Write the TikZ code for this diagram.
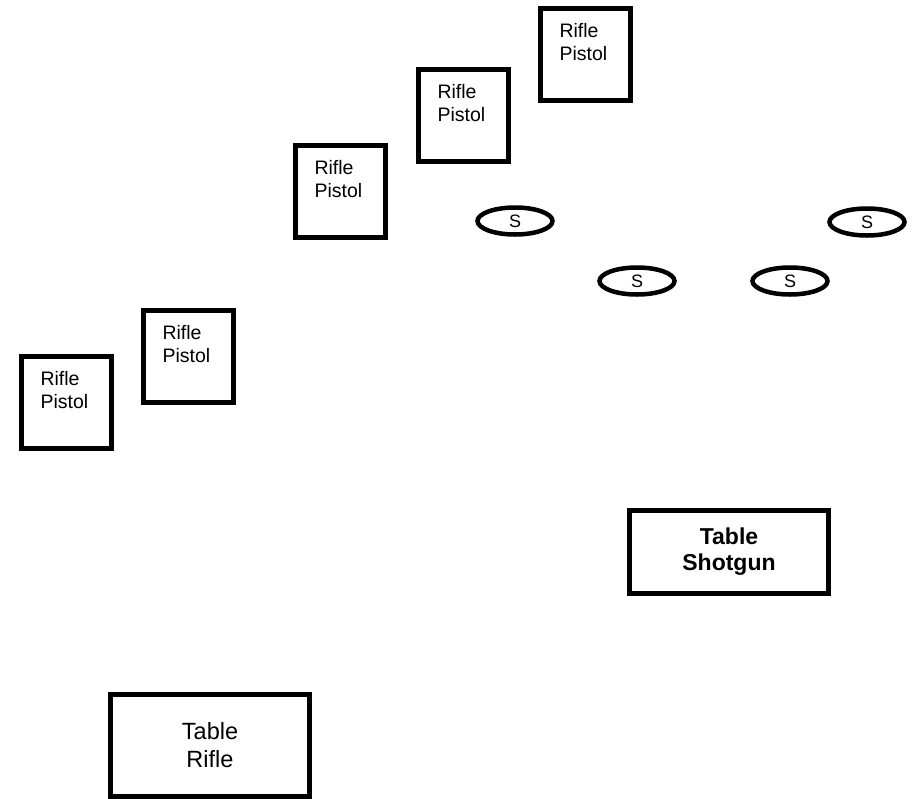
\documentclass[tikz,border=0pt]{standalone}
\usepackage{fontspec}
\setmainfont{Liberation Sans}
\usetikzlibrary{shapes.geometric}
\begin{document}
\begin{tikzpicture}[x=1pt,y=-1pt]

        \useasboundingbox (0,0) rectangle (912,798);

        \begin{scope}[every node/.style={rectangle,draw,line width=5pt,anchor=north west,
            text width=52pt,align=left,inner xsep=19pt,inner ysep=15pt,text depth=48pt,
            font=\fontsize{19.5}{23}\selectfont}]
          \node (1) at (538,6)   {Rifle\\Pistol};
          \node (2) at (416,67)  {Rifle\\Pistol};
          \node (3) at (293,143) {Rifle\\Pistol};
          \node (4) at (141,308) {Rifle\\Pistol};
          \node (5) at (19,354)  {Rifle\\Pistol};
        \end{scope}

        \begin{scope}[every node/.style={ellipse,draw,line width=4.5pt,minimum width=75pt,
            minimum height=27pt,inner sep=0pt,font=\fontsize{18}{18}\selectfont}]
          \node (6) at (515,221) {S};
          \node (7) at (637,281) {S};
          \node (8) at (790,281) {S};
          \node (9) at (867,222) {S};
        \end{scope}

        \begin{scope}[every node/.style={rectangle,draw,line width=5pt,align=center}]
          \node[minimum width=199pt,minimum height=83pt,
            font=\bfseries\fontsize{23}{26}\selectfont] (10) at (729,552) {Table\\Shotgun};
          \node[minimum width=199pt,minimum height=102pt,
            font=\fontsize{23.5}{28}\selectfont] (11) at (210,745) {Table\\Rifle};
        \end{scope}

      \end{tikzpicture}
\end{document}
